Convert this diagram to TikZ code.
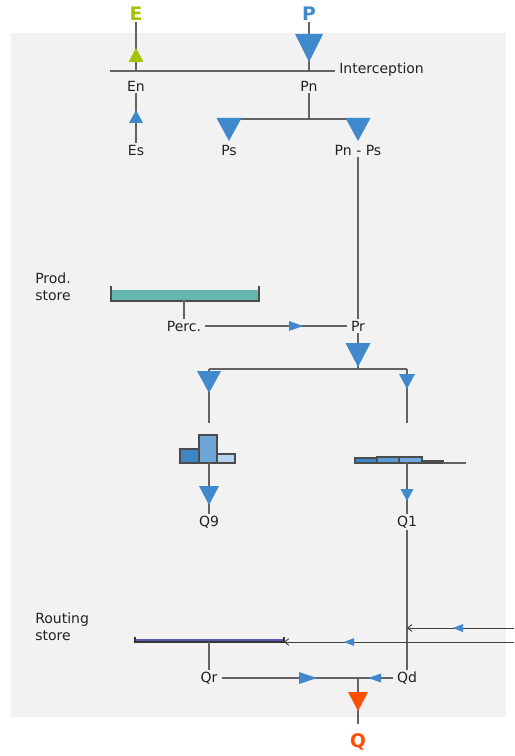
\documentclass[tikz,border=0pt]{standalone}
\usepackage{fontspec}
\setmainfont{DejaVu Sans}
\usetikzlibrary{arrows.meta}
\definecolor{bl}{HTML}{4189CD}
\definecolor{grn}{HTML}{A6C300}
\definecolor{orng}{HTML}{FF4E00}
\definecolor{lgray}{HTML}{636363}
\definecolor{bgc}{HTML}{F2F2F2}
\definecolor{tealc}{HTML}{66B6B0}
\definecolor{rsc}{HTML}{5A5AB4}
\definecolor{txt}{HTML}{222222}
\definecolor{hA}{HTML}{3D86C6}
\definecolor{hB}{HTML}{6EA6D8}
\definecolor{hC}{HTML}{B5D3EE}
\definecolor{hD}{HTML}{5B9AD2}
\definecolor{hE}{HTML}{6FA8DC}
\definecolor{hF}{HTML}{5A7890}
\newcommand{\trD}[5]{\fill[#5] ({#1-#3/2},#2) -- ({#1+#3/2},#2) -- (#1,{#2+#4}) -- cycle;}
\newcommand{\trU}[5]{\fill[#5] (#1,#2) -- ({#1+#3/2},{#2+#4}) -- ({#1-#3/2},{#2+#4}) -- cycle;}
\newcommand{\trR}[5]{\fill[#5] (#1,#2) -- ({#1-#3},{#2-#4/2}) -- ({#1-#3},{#2+#4/2}) -- cycle;}
\newcommand{\trL}[5]{\fill[#5] (#1,#2) -- ({#1+#3},{#2-#4/2}) -- ({#1+#3},{#2+#4/2}) -- cycle;}
\tikzset{
  lbl/.style={inner xsep=3pt, inner ysep=1pt, text=txt, font=\fontsize{10.5}{12.75}\selectfont},
  big/.style={inner xsep=2pt, inner ysep=1pt, font=\fontsize{14}{16}\selectfont\bfseries},
  ln/.style={draw=lgray, line width=1.1pt},
  thinln/.style={draw=black!75, line width=0.7pt},
  store/.style={lbl, align=left, anchor=west},
  bar/.style={draw=black!70, line width=0.8pt}
}
\begin{document}
\begin{tikzpicture}[x=0.75pt, y=-0.75pt]
\useasboundingbox (0,0) rectangle (514,756);
\fill[bgc] (11,33) rectangle (506,717);

% labels
\node[big, text=grn] (E) at (136,14) {E};
\node[big, text=bl] (P) at (309,14) {P};
\node[lbl, anchor=west] (Int) at (335,70) {Interception};
\node[lbl] (En) at (136,86) {En};
\node[lbl] (Pn) at (309,86) {Pn};
\node[lbl] (Es) at (136,150) {Es};
\node[lbl] (Ps) at (229,150) {Ps};
\node[lbl] (PnPs) at (358,150) {Pn - Ps};
\node[store] (ProdL) at (31,287) {Prod.\\store};
\node[lbl] (Perc) at (184,326) {Perc.};
\node[lbl] (Pr) at (358,326) {Pr};
\node[lbl] (Q9) at (209,522) {Q9};
\node[lbl] (Q1) at (407,522) {Q1};
\node[store] (RoutL) at (31,627) {Routing\\store};
\node[lbl] (Qr) at (209,678) {Qr};
\node[lbl] (Qd) at (407,678) {Qd};
\node[big, text=orng] (Q) at (358,742) {Q};

% coordinates
\coordinate (IL) at (110,71);
\coordinate (Eint) at (136,71);
\coordinate (Pint) at (309,71);
\coordinate (PnJ) at (309,119);
\coordinate (PsT) at (229,119);
\coordinate (PnPsT) at (358,119);
\coordinate (PSc) at (184,300);
\coordinate (PrJ) at (358,369);
\coordinate (L1) at (209,369);
\coordinate (R1) at (407,369);
\coordinate (L2) at (209,423);
\coordinate (R2) at (407,423);
\coordinate (H9) at (209,463);
\coordinate (H1) at (407,463);
\coordinate (In1) at (514,628);
\coordinate (Hit1) at (407,628);
\coordinate (In2) at (514,642);
\coordinate (RSe) at (284,642);
\coordinate (RSc) at (209,642);
\coordinate (QJ) at (358,678);
\coordinate (Qend) at (358,724);

% interception
\draw[ln] (E) -- (Eint);
\draw[ln] (P) -- (Pint);
\draw[ln] (IL) -- (IL -| Int.west);
\trU{136}{48}{15}{14}{grn}
\trD{309}{34}{28}{28}{bl}

% Es -> En
\draw[ln] (Es) -- (En);
\trU{136}{110}{14}{13}{bl}

% Pn split
\draw[ln] (Pn) -- (PnJ);
\draw[ln] (PsT) -- (PnPsT);
\trD{229}{118}{25}{23}{bl}
\trD{358}{118}{25}{23}{bl}

% Pn-Ps -> Pr
\draw[ln] (PnPs) -- (Pr);

% production store
\fill[tealc] (111,290) rectangle (259,300);
\draw[bar] (111,286) -- (111,301) -- (259,301) -- (259,286);
\draw[ln] (PSc) -- (Perc);
\draw[ln] (Perc) -- (Pr);
\trR{303}{326}{14}{10}{bl}

% Pr split
\draw[ln] (Pr) -- (PrJ);
\draw[ln] (L1) -- (R1);
\draw[ln] (L1) -- (L2);
\draw[ln] (R1) -- (R2);
\trD{358}{343}{25}{24}{bl}
\trD{209}{371}{24}{22}{bl}
\trD{407}{374}{16}{15}{bl}

% unit hydrographs
\draw[bar, fill=hA] (180,449) rectangle (199,463);
\draw[bar, fill=hB] (199,435) rectangle (217,463);
\draw[bar, fill=hC] (217,454) rectangle (235,463);
\draw[ln] (H9) -- (Q9);
\trD{209}{486}{20}{19}{bl}

\draw[bar, fill=hA] (355,458) rectangle (377,463);
\draw[bar, fill=hD] (377,457) rectangle (399,463);
\draw[bar, fill=hE] (399,457) rectangle (422,463);
\draw[bar, fill=hF] (422,461) rectangle (443,463);
\draw[draw=lgray, line width=0.9pt] (443,463) -- (466,463);
\draw[ln] (H1) -- (Q1);
\trD{407}{489}{13}{12}{bl}

% Q1 -> Qd
\draw[ln] (Q1) -- (Qd);

% routing store
\fill[rsc] (135,639) rectangle (284,642);
\draw[bar, draw=black!80] (135,637) -- (135,642) -- (284,642) -- (284,637);
\draw[thinln, -{Straight Barb[length=3pt,width=5pt]}] (In1) -- (Hit1);
\trL{453}{628}{10}{8}{bl}
\draw[thinln, -{Straight Barb[length=3pt,width=5pt]}] (In2) -- (RSe);
\trL{344}{642}{10}{8}{bl}
\draw[ln] (RSc) -- (Qr);

% outputs
\draw[ln] (Qr) -- (Qd);
\trR{317}{678}{18}{12}{bl}
\trL{368}{678}{13}{9}{bl}
\draw[ln] (QJ) -- (Qend);
\trD{358}{692}{20}{19}{orng}
\end{tikzpicture}
\end{document}
